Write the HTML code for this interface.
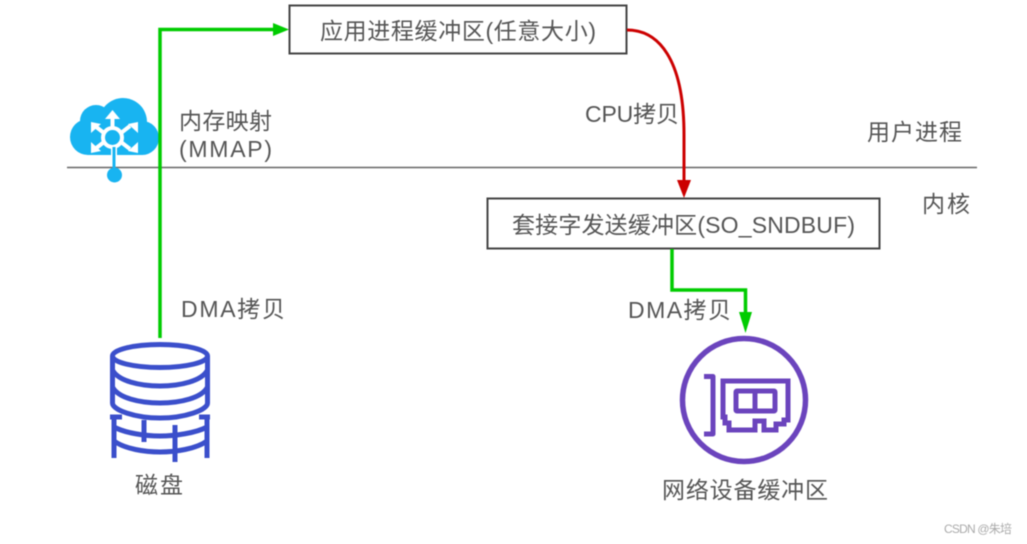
<!DOCTYPE html>
<html><head><meta charset="utf-8">
<style>
html,body{margin:0;padding:0;background:#fff;width:1027px;height:544px;overflow:hidden}
svg{display:block;filter:blur(.4px)}
text{font-family:"Liberation Sans","Noto Sans CJK SC",sans-serif;fill:#555;font-size:23px}
</style></head>
<body>
<svg width="1027" height="544" viewBox="0 0 1027 544" xmlns="http://www.w3.org/2000/svg">
<!-- divider -->
<line x1="67" y1="167.500" x2="977" y2="167.500" stroke="#666" stroke-width="1.500"/>
<!-- cloud -->
<g>
<g fill="#18b4f1">
<circle cx="88" cy="137" r="18"/>
<circle cx="96" cy="121" r="16"/>
<circle cx="123" cy="122" r="24"/>
<circle cx="142" cy="138" r="17"/>
<rect x="88" y="125" width="54" height="30"/>
</g>
<g stroke="#fff" stroke-width="4" fill="#fff">
<circle cx="112.500" cy="137.500" r="9.500" fill="none" stroke-width="4"/>
<line x1="112.500" y1="128" x2="112.500" y2="116"/>
<line x1="104" y1="133" x2="95" y2="126"/>
<line x1="121" y1="133" x2="130" y2="126"/>
<line x1="104" y1="142" x2="95" y2="149"/>
<line x1="121" y1="142" x2="130" y2="149"/>
<polygon points="112.500,110 105,119 120,119" stroke="none"/>
<polygon points="91,122 91,133 101,124" stroke="none"/>
<polygon points="138,122 138,133 128,124" stroke="none"/>
<polygon points="91,153 91,142 101,151" stroke="none"/>
<polygon points="138,153 138,142 128,151" stroke="none"/>
</g>
<line x1="114" y1="147" x2="114" y2="160" stroke="#fff" stroke-width="6"/>
<line x1="114" y1="147" x2="114" y2="172" stroke="#18b4f1" stroke-width="3"/>
<circle cx="114.500" cy="175" r="7.500" fill="#18b4f1"/>
</g>
<!-- green left connector -->
<path d="M160 338 V29.500 H276" fill="none" stroke="#00cc00" stroke-width="3.500"/>
<polygon points="289,29.500 273,23 273,36" fill="#00cc00"/>
<!-- top box -->
<rect x="289.500" y="5.500" width="337" height="48" fill="#fff" stroke="#444" stroke-width="2"/>
<text x="320" y="39" textLength="276" lengthAdjust="spacing">应用进程缓冲区(任意大小)</text>
<!-- red curve -->
<path d="M627 30 C658 30 684 58 684 135 V184" fill="none" stroke="#cc0000" stroke-width="3"/>
<polygon points="684,198 677,180 691,180" fill="#cc0000"/>
<!-- second box -->
<rect x="487.500" y="198.500" width="392" height="50" fill="#fff" stroke="#444" stroke-width="2"/>
<text x="512" y="233" textLength="343" lengthAdjust="spacing">套接字发送缓冲区(SO_SNDBUF)</text>
<!-- green right connector -->
<path d="M672 249 V290 H745.500 V318" fill="none" stroke="#00cc00" stroke-width="3.500"/>
<polygon points="745.500,333 739,312 752,312" fill="#00cc00"/>
<!-- labels -->
<text x="179" y="129" textLength="93" lengthAdjust="spacing">内存映射</text>
<text x="179" y="157" textLength="93" lengthAdjust="spacing">(MMAP)</text>
<text x="585" y="122" textLength="94" lengthAdjust="spacing">CPU拷贝</text>
<text x="867" y="140" textLength="95" lengthAdjust="spacing">用户进程</text>
<text x="922" y="212" textLength="48" lengthAdjust="spacing">内核</text>
<text x="181" y="317" textLength="104" lengthAdjust="spacing">DMA拷贝</text>
<text x="628" y="318" textLength="103" lengthAdjust="spacing">DMA拷贝</text>
<text x="135" y="493" textLength="48" lengthAdjust="spacing">磁盘</text>
<text x="662" y="498" textLength="166" lengthAdjust="spacing">网络设备缓冲区</text>
<text x="944" y="533" textLength="68" lengthAdjust="spacing" style="font-size:12px;fill:#aaa">CSDN @朱培</text>
<!-- disk -->
<g fill="none" stroke="#3b4fcb" stroke-width="5">
<ellipse cx="160" cy="356" rx="47.500" ry="11.500"/>
<path d="M112.500 356 V403 C112.500 410 135 418 160 418 C185 418 207.500 410 207.500 403 V356"/>
<path d="M112.500 370 C118 381 140 386 160 386 C180 386 202 381 207.500 370"/>
<path d="M112.500 387 C118 398 140 403 160 403 C180 403 202 398 207.500 387"/>
<path d="M114 416 V458"/>
<path d="M207 416 V458"/>
<path d="M114 427 C125 433 145 436 160 436 C175 436 196 433 207 427"/>
<path d="M114 441 C125 449 145 452 160 452 C175 452 196 449 207 441"/>
<path d="M144 420 V442"/>
<path d="M175 425 V462"/>
<path d="M110 417 H122 M199 417 H210"/>
</g>
<!-- NIC -->
<g fill="none" stroke="#6b44bd" stroke-width="5.500">
<circle cx="744" cy="400" r="61.500"/>
<g stroke-width="5">
<path d="M704 376.500 H713 V434 H704" stroke-linejoin="round"/>
<path d="M723 381 H788 V420 H784 V424 H776 V430 H764 V421 H755 V430 H729 V423 H725 V417 H723 Z"/>
<rect x="736" y="391" width="39" height="20" rx="1"/>
<line x1="755" y1="391" x2="755" y2="411"/>
</g>
</g>
</svg>
</body></html>
